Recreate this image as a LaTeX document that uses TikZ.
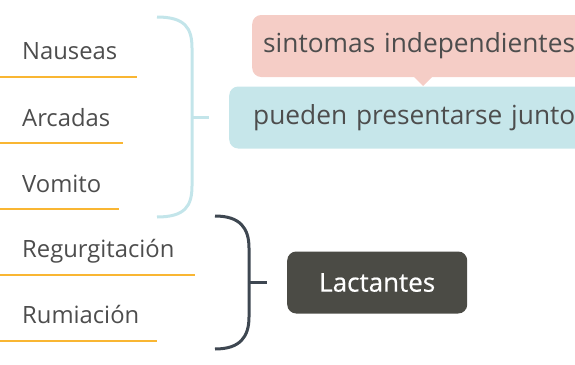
\documentclass[tikz,border=0pt]{standalone}
\usepackage{fontspec}
\setmainfont{Open Sans}
\newfontfamily\gruesa[FakeBold=0.6]{Open Sans}
\usetikzlibrary{positioning}

\definecolor{textogris}{HTML}{4D4D4D}
\definecolor{naranja}{HTML}{F9B633}
\definecolor{rosa}{HTML}{F5CDC6}
\definecolor{celeste}{HTML}{C6E6EA}
\definecolor{llave}{HTML}{C3E5EA}
\definecolor{pizarra}{HTML}{3E4751}
\definecolor{oscuro}{HTML}{4B4B45}

\tikzset{
    sintoma/.style={anchor=base west, inner sep=0pt, text=textogris,
        font=\fontsize{23.8}{28}\selectfont},
    raya/.style={draw=naranja, line width=2pt},
    caja/.style={rounded corners=9pt, anchor=west, minimum height=62pt,
        text=textogris, font=\fontsize{26.3}{30}\selectfont, align=left}
}

\begin{document}
\begin{tikzpicture}[x=1pt, y=-1pt]
    \useasboundingbox (0,0) rectangle (575,364);
    \clip (0,0) rectangle (575,364);

    % sintomas de la izquierda
    \node[sintoma] (nauseas) at (22,59) {Nauseas};
    \node[sintoma] (arcadas) at (22,126) {Arcadas};
    \node[sintoma] (vomito) at (22,192) {Vomito};
    \node[sintoma] (regurg) at (22,257) {Regurgitación};
    \node[sintoma] (rumia) at (22,323) {Rumiación};

    \draw[raya] (0,77) -- (137,77);
    \draw[raya] (0,143) -- (123,143);
    \draw[raya] (0,209) -- (119,209);
    \draw[raya] (0,275) -- (195,275);
    \draw[raya] (0,341) -- (157,341);

    % cajas de la derecha
    \node[caja, fill=rosa, inner xsep=11pt, text width=340pt] (indep) at (252,46) {sintomas independientes};
    \fill[rosa] (413,76) -- (423,86) -- (433,76) -- cycle;
    \node[caja, fill=celeste, inner xsep=24pt, text width=340pt] (juntos) at (229,117.5) {pueden presentarse juntos};
    \node[caja, fill=oscuro, text=white, inner xsep=0pt, minimum width=180pt, align=center,
        font=\gruesa\fontsize{26}{30}\selectfont] (lact) at (287,282.5) {Lactantes};

    % llaves
    \coordinate (llave1) at (192,117);
    \coordinate (llave2) at (249,282);
    \draw[llave, line width=3pt] (157,17) .. controls (185,17) and (192,28) .. (192,48)
        -- (192,186) .. controls (192,206) and (185,217) .. (157,217);
    \draw[llave, line width=3pt] (llave1) -- ++(17,0);
    \draw[pizarra, line width=3pt] (215,216) .. controls (240,216) and (249,228) .. (249,248)
        -- (249,317) .. controls (249,337) and (240,349) .. (215,349);
    \draw[pizarra, line width=3pt] (llave2) -- ++(18,0);
\end{tikzpicture}
\end{document}
